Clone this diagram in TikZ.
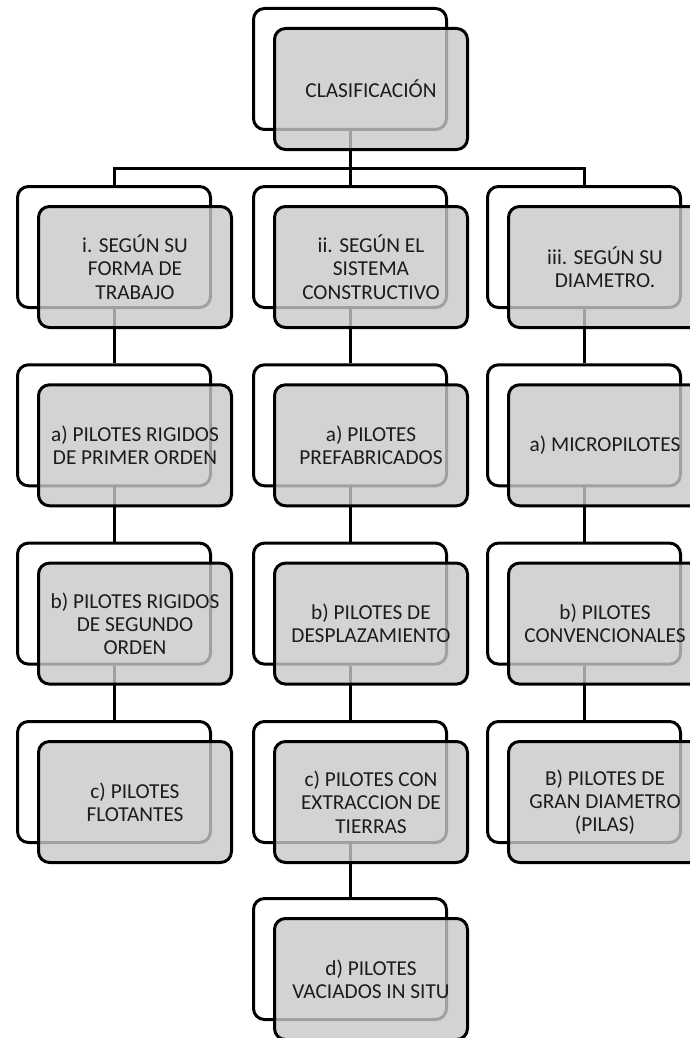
\documentclass[tikz,border=0pt]{standalone}
\usepackage{fontspec}
\setmainfont{Carlito}
\pgfdeclarelayer{background}
\pgfsetlayers{background,main}
\definecolor{boxfill}{RGB}{200,200,200}
\definecolor{inktext}{RGB}{28,28,28}
\tikzset{
  boxbase/.style={draw=black, line width=3pt, rounded corners=11pt,
    minimum width=193pt, minimum height=121pt, inner sep=0pt, anchor=north west},
  backbox/.style={boxbase, fill=white},
  frontbox/.style={boxbase, fill=boxfill, fill opacity=0.8, draw opacity=1,
    text opacity=1, align=center, text=inktext,
    font=\fontsize{21.3}{23.3}\selectfont},
  link/.style={draw=black, line width=3pt}
}
% a white card with a grey card laid over it, shifted down and right
\newcommand\cardpair[4]{%
  \node[backbox] (#1b) at (#2,#3) {};
  \node[frontbox] (#1) at (#2+21,#3+20) {#4};
}
\begin{document}
\begin{tikzpicture}[x=1pt,y=-1pt]
\useasboundingbox (0,0) rectangle (690,1038);

% root
\cardpair{root}{252}{7}{CLASIFICACIÓN}

% first column
\cardpair{ca}{16}{185}{i. SEGÚN SU\\FORMA DE\\TRABAJO}
\cardpair{cb}{16}{363.3}{a) PILOTES RIGIDOS\\DE PRIMER ORDEN}
\cardpair{cc}{16}{541.6}{b) PILOTES RIGIDOS\\DE SEGUNDO\\ORDEN}
\cardpair{cd}{16}{720}{c) PILOTES\\FLOTANTES}

% second column
\cardpair{ma}{252}{185}{ii. SEGÚN EL\\SISTEMA\\CONSTRUCTIVO}
\cardpair{mb}{252}{363.3}{a) PILOTES\\PREFABRICADOS}
\cardpair{mc}{252}{541.6}{b) PILOTES DE\\DESPLAZAMIENTO}
\cardpair{md}{252}{720}{c) PILOTES CON\\EXTRACCION DE\\TIERRAS}
\cardpair{me}{252}{897}{d) PILOTES\\VACIADOS IN SITU}

% third column
\cardpair{ra}{486}{185}{iii. SEGÚN SU\\DIAMETRO.}
\cardpair{rb}{486}{363.3}{a) MICROPILOTES}
\cardpair{rc}{486}{541.6}{b) PILOTES\\CONVENCIONALES}
\cardpair{rd}{486}{720}{B) PILOTES DE\\GRAN DIAMETRO\\(PILAS)}

% connectors, kept underneath the cards
\coordinate (bus) at (0,168);
\begin{pgfonlayer}{background}
  \draw[link] (rootb.south) -- (mab.north);
  \draw[link] (cab.north) -- (cab.north |- bus) -- (rab.north |- bus) -- (rab.north);
  \draw[link] (cab.south) -- (cbb.north);
  \draw[link] (cbb.south) -- (ccb.north);
  \draw[link] (ccb.south) -- (cdb.north);
  \draw[link] (mab.south) -- (mbb.north);
  \draw[link] (mbb.south) -- (mcb.north);
  \draw[link] (mcb.south) -- (mdb.north);
  \draw[link] (mdb.south) -- (meb.north);
  \draw[link] (rab.south) -- (rbb.north);
  \draw[link] (rbb.south) -- (rcb.north);
  \draw[link] (rcb.south) -- (rdb.north);
\end{pgfonlayer}
\end{tikzpicture}
\end{document}
